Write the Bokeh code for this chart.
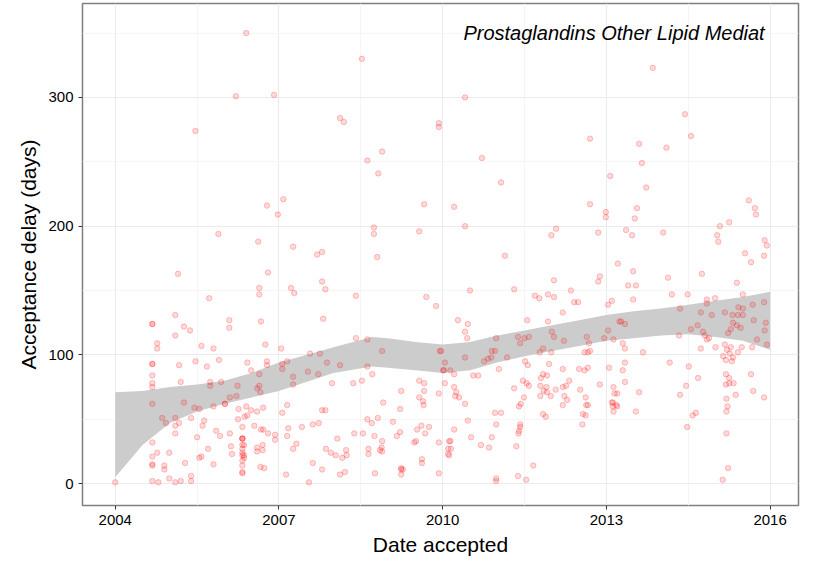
from bokeh.plotting import figure
from bokeh.models import ColumnDataSource, FixedTicker, Label
from bokeh.embed import file_html
from bokeh.resources import INLINE

# (year accepted, days)
points = [
    (2004.0, 1), (2004.68, 124), (2004.68, 124), (2005.1, 131), (2004.77, 109), (2004.77, 105),
    (2004.68, 93), (2004.68, 93), (2004.68, 84), (2004.68, 78), (2004.68, 75), (2004.68, 62),
    (2004.68, 32), (2004.68, 21), (2004.77, 24), (2004.68, 15), (2004.68, 14), (2004.68, 2),
    (2004.79, 1), (2004.86, 51), (2004.93, 47), (2004.99, 24), (2004.9, 14), (2004.9, 11),
    (2004.99, 4), (2005.1, 1), (2005.2, 2), (2005.39, 6), (2005.39, 2), (2005.15, 163),
    (2005.47, 274), (2005.89, 194), (2005.72, 144), (2005.26, 122), (2005.37, 119), (2005.1, 115),
    (2005.58, 107), (2005.8, 105), (2005.17, 92), (2005.47, 95), (2005.68, 91), (2005.9, 96),
    (2005.2, 79), (2005.74, 79), (2005.74, 76), (2005.94, 79), (2005.26, 63), (2005.45, 59),
    (2005.54, 58), (2005.8, 60), (2005.1, 51), (2005.17, 47), (2005.1, 45), (2005.39, 51),
    (2005.1, 39), (2005.63, 49), (2005.6, 45), (2005.85, 41), (2005.92, 37), (2005.5, 36),
    (2005.28, 16), (2005.54, 20), (2005.58, 21), (2005.7, 27), (2005.8, 15),
    (2006.4, 350), (2006.21, 301), (2006.91, 302), (2006.78, 216), (2006.98, 209), (2006.62, 188),
    (2006.8, 164), (2006.64, 152), (2006.64, 147), (2006.09, 127), (2006.09, 121), (2006.67, 126),
    (2006.75, 108), (2006.42, 94), (2006.78, 95), (2006.78, 92), (2006.24, 76), (2006.49, 88),
    (2006.64, 85), (2006.6, 74), (2006.64, 76), (2006.66, 71), (2006.01, 62), (2006.01, 62),
    (2006.1, 67), (2006.22, 68), (2006.71, 59), (2006.26, 58), (2006.4, 60), (2006.49, 57),
    (2006.6, 56), (2006.42, 53), (2006.37, 52), (2006.25, 50), (2006.33, 44), (2006.33, 35),
    (2006.33, 35), (2006.33, 35), (2006.33, 30), (2006.33, 27), (2006.33, 24), (2006.33, 22),
    (2006.33, 18), (2006.33, 14), (2006.33, 9), (2006.33, 8), (2006.36, 30), (2006.36, 22),
    (2006.36, 20), (2006.55, 45), (2006.67, 42), (2006.71, 42), (2006.8, 39), (2006.93, 38),
    (2006.93, 34), (2006.1, 39), (2006.12, 29), (2006.14, 23), (2006.6, 28), (2006.6, 25),
    (2006.7, 26), (2006.7, 30), (2006.66, 13), (2006.73, 12),
    (2008.52, 330), (2008.12, 284), (2008.19, 281), (2009.93, 280), (2009.93, 277), (2008.89, 258),
    (2008.62, 251), (2008.82, 241), (2007.08, 221), (2009.66, 217), (2008.74, 199), (2008.74, 194),
    (2009.57, 196), (2007.26, 184), (2007.7, 178), (2007.79, 180), (2008.8, 176), (2007.22, 152),
    (2007.28, 148), (2007.79, 157), (2007.85, 151), (2008.41, 146), (2009.7, 145), (2009.88, 138),
    (2007.81, 128), (2007.04, 105), (2008.41, 113), (2008.62, 112), (2008.89, 103), (2009.95, 103),
    (2007.06, 93), (2007.15, 95), (2007.06, 89), (2007.57, 101), (2007.75, 101), (2007.88, 94),
    (2008.12, 92), (2007.26, 83), (2007.26, 77), (2007.53, 87), (2007.72, 85), (2007.97, 78),
    (2008.36, 78), (2008.52, 80), (2008.62, 91), (2008.71, 85), (2010.04, 94), (2010.02, 88),
    (2010.04, 78), (2009.93, 70), (2009.57, 80), (2009.66, 78), (2009.66, 72), (2009.57, 67),
    (2009.64, 64), (2009.65, 61), (2009.24, 72), (2009.22, 58), (2008.91, 63), (2007.06, 55),
    (2007.15, 61), (2007.79, 57), (2007.85, 57), (2007.15, 37), (2007.17, 43), (2007.42, 44),
    (2007.62, 46), (2007.73, 47), (2007.32, 31), (2007.26, 27), (2008.07, 35), (2008.38, 39),
    (2008.62, 50), (2008.7, 47), (2008.54, 39), (2008.75, 37), (2008.81, 51), (2009.09, 48),
    (2009.22, 40), (2009.16, 37), (2008.89, 33), (2008.85, 26), (2008.88, 28), (2008.89, 25),
    (2008.64, 27), (2008.64, 23), (2007.86, 27), (2007.95, 24), (2008.04, 22), (2008.16, 20),
    (2008.23, 26), (2008.24, 22), (2009.53, 42), (2009.61, 45), (2009.75, 44), (2009.68, 39),
    (2009.51, 33), (2009.48, 32), (2009.93, 32), (2010.14, 33), (2007.62, 16), (2007.79, 11),
    (2007.13, 7), (2007.55, 1), (2008.12, 7), (2008.21, 9), (2008.76, 8), (2009.24, 12),
    (2009.24, 11), (2009.27, 11), (2009.24, 7), (2009.62, 19), (2009.62, 16), (2009.93, 8),
    (2010.1, 27), (2010.1, 23),
    (2010.41, 300), (2012.7, 268), (2010.72, 253), (2011.07, 234), (2013.07, 239), (2010.21, 215),
    (2012.7, 217), (2012.99, 211), (2012.99, 207), (2010.41, 200), (2012.08, 198), (2011.99, 193),
    (2012.85, 195), (2013.21, 171), (2011.14, 177), (2012.04, 158), (2012.85, 157), (2012.88, 161),
    (2010.5, 150), (2011.31, 151), (2011.69, 146), (2011.77, 144), (2011.93, 147), (2012.04, 145),
    (2012.35, 150), (2012.41, 141), (2012.48, 141), (2012.2, 133), (2013.03, 139), (2013.1, 142),
    (2010.28, 127), (2010.46, 124), (2010.41, 118), (2010.45, 113), (2011.55, 127), (2011.93, 126),
    (2012.0, 118), (2012.04, 114), (2012.22, 111), (2010.98, 113), (2011.38, 114), (2011.5, 113),
    (2011.58, 114), (2011.42, 109), (2012.64, 114), (2012.68, 109), (2012.96, 113), (2013.03, 119),
    (2013.13, 112), (2013.24, 126), (2011.78, 102), (2011.84, 105), (2011.99, 102), (2010.9, 103),
    (2010.96, 103), (2010.83, 97), (2010.89, 98), (2010.76, 95), (2011.18, 98), (2010.41, 98),
    (2009.97, 103), (2010.01, 88), (2010.14, 88), (2010.21, 85), (2011.03, 89), (2010.56, 84),
    (2010.65, 84), (2011.51, 95), (2011.56, 92), (2011.95, 93), (2011.84, 85), (2011.91, 84),
    (2011.8, 82), (2012.2, 89), (2012.5, 89), (2012.6, 88), (2012.66, 90), (2012.6, 102),
    (2012.66, 102), (2012.7, 103), (2013.05, 90), (2011.47, 80), (2011.54, 78), (2011.58, 76),
    (2011.31, 74), (2011.49, 67), (2011.43, 62), (2011.4, 60), (2010.21, 75), (2010.25, 71),
    (2010.23, 68), (2010.3, 67), (2010.41, 62), (2011.79, 76), (2011.9, 75), (2011.91, 71),
    (2011.85, 72), (2011.79, 68), (2011.98, 68), (2012.07, 73), (2012.2, 75), (2012.26, 76),
    (2012.32, 80), (2012.52, 73), (2012.62, 67), (2012.66, 61), (2012.63, 61), (2012.23, 68),
    (2012.28, 65), (2012.2, 61), (2012.57, 54), (2012.62, 53), (2012.56, 46), (2011.84, 54),
    (2011.89, 52), (2012.88, 77), (2013.13, 75), (2013.15, 70), (2013.1, 63), (2013.12, 60),
    (2013.13, 56), (2013.18, 61), (2010.96, 55), (2011.07, 55), (2010.98, 46), (2010.46, 49),
    (2010.21, 42), (2010.12, 33), (2010.15, 27), (2010.12, 22), (2010.52, 36), (2010.7, 30),
    (2010.85, 28), (2010.9, 36), (2011.42, 46), (2011.42, 44), (2011.4, 41), (2011.39, 39),
    (2011.35, 29), (2011.66, 14), (2011.38, 6), (2011.53, 3), (2010.98, 4), (2010.98, 2),
    (2013.85, 323), (2014.44, 287), (2014.55, 270), (2013.6, 264), (2014.1, 261), (2013.65, 249),
    (2013.73, 230), (2015.61, 220), (2015.72, 214), (2015.74, 209), (2013.56, 214), (2013.52, 206),
    (2013.36, 197), (2013.47, 193), (2014.04, 195), (2015.08, 200), (2015.25, 203), (2015.03, 193),
    (2015.05, 188), (2015.9, 189), (2015.94, 185), (2015.89, 177), (2015.54, 179), (2015.65, 172),
    (2013.49, 165), (2013.4, 154), (2013.54, 154), (2013.49, 143), (2014.13, 160), (2014.2, 147),
    (2014.49, 147), (2014.75, 163), (2015.39, 156), (2014.84, 143), (2014.99, 144), (2014.84, 140),
    (2015.5, 147), (2014.35, 136), (2014.73, 133), (2014.93, 131), (2015.17, 133), (2015.31, 131),
    (2015.42, 137), (2015.5, 136), (2015.41, 131), (2015.5, 131), (2015.68, 139), (2015.89, 141),
    (2013.27, 126), (2013.34, 124), (2014.67, 123), (2014.55, 120), (2014.33, 115), (2014.77, 118),
    (2014.8, 115), (2014.84, 112), (2014.88, 113), (2014.73, 105), (2015.0, 106), (2015.23, 117),
    (2015.28, 120), (2015.32, 125), (2015.39, 123), (2015.46, 121), (2015.7, 127), (2015.76, 112),
    (2015.9, 119), (2015.92, 125), (2015.94, 108), (2015.67, 106), (2015.48, 106), (2013.3, 109),
    (2013.34, 105), (2013.67, 102), (2015.17, 108), (2015.21, 104), (2015.28, 106), (2015.14, 99),
    (2015.19, 96), (2015.26, 101), (2015.32, 98), (2015.3, 95), (2015.41, 102), (2013.34, 94),
    (2013.3, 88), (2013.34, 79), (2014.16, 94), (2014.51, 91), (2014.68, 82), (2014.46, 76),
    (2014.35, 69), (2015.19, 85), (2015.25, 82), (2015.19, 77), (2015.25, 78), (2015.33, 78),
    (2015.37, 69), (2015.2, 66), (2015.22, 60), (2015.2, 56), (2015.2, 39), (2015.23, 12),
    (2015.13, 3), (2015.65, 85), (2015.69, 72), (2015.89, 67), (2013.6, 71), (2013.54, 56),
    (2013.2, 70), (2013.12, 63), (2013.2, 60), (2014.58, 53), (2014.64, 55), (2014.48, 44),
]
years = [p[0] for p in points]
days = [p[1] for p in points]

# smoother confidence band
band_x = [2004, 2004.5, 2005, 2005.5, 2006, 2006.5, 2007, 2007.5, 2008, 2008.7, 2009, 2009.5,
          2010, 2010.5, 2011, 2011.5, 2012, 2012.5, 2013, 2013.5, 2014, 2014.5, 2015, 2015.5, 2016]
band_lo = [5, 30, 47, 56, 62, 67, 72, 79, 86, 91, 90, 88, 86, 88, 94, 99, 103, 107, 111, 113,
           115, 116, 114, 111, 104]
band_hi = [71, 72, 75, 77, 80, 86, 94, 100, 106, 114, 113, 110, 108, 110, 115, 119, 123, 127,
           131, 134, 136, 139, 142, 145, 149]

FONT = "Liberation Sans"

p = figure(width=817, height=562, output_backend="svg", toolbar_location=None,
           x_range=(2003.4, 2016.52), y_range=(-17, 373),
           min_border_left=82, min_border_right=19, min_border_top=3, min_border_bottom=57)
p.background_fill_color = "white"
p.outline_line_color = "#7f7f7f"
p.outline_line_width = 1.5

p.varea(x=band_x, y1=band_lo, y2=band_hi, fill_color="#cccccc", fill_alpha=1)
src = ColumnDataSource(dict(x=years, y=days))
p.scatter("x", "y", source=src, size=5.5, fill_color="red", fill_alpha=0.15,
          line_color="red", line_alpha=0.22, line_width=1)

p.xaxis.ticker = FixedTicker(ticks=[2004, 2007, 2010, 2013, 2016],
                             minor_ticks=[2005.5, 2008.5, 2011.5, 2014.5])
p.yaxis.ticker = FixedTicker(ticks=[0, 100, 200, 300], minor_ticks=[50, 150, 250, 350])
for ax in (p.xaxis, p.yaxis):
    ax.axis_line_color = None
    ax.major_tick_line_color = "#333333"
    ax.minor_tick_line_color = None
    ax.major_tick_in = 0
    ax.major_tick_out = 4
    ax.major_label_text_font = FONT
    ax.major_label_text_font_size = "15px"
    ax.major_label_text_color = "black"
    ax.axis_label_text_font = FONT
    ax.axis_label_text_font_size = "21px"
    ax.axis_label_text_font_style = "normal"
    ax.axis_label_text_color = "black"
p.xaxis.axis_label = "Date accepted"
p.yaxis.axis_label = "Acceptance delay (days)"
p.xgrid.grid_line_color = "#ebebeb"
p.ygrid.grid_line_color = "#ebebeb"
p.xgrid.minor_grid_line_color = "#f5f5f5"
p.ygrid.minor_grid_line_color = "#f5f5f5"

p.add_layout(Label(x=2015.9, y=350, text="Prostaglandins Other Lipid Mediat",
                   text_align="right", text_baseline="middle", text_font=FONT,
                   text_font_style="italic", text_font_size="20px", text_color="black"))

open("out.html", "w").write(file_html(p, INLINE))
